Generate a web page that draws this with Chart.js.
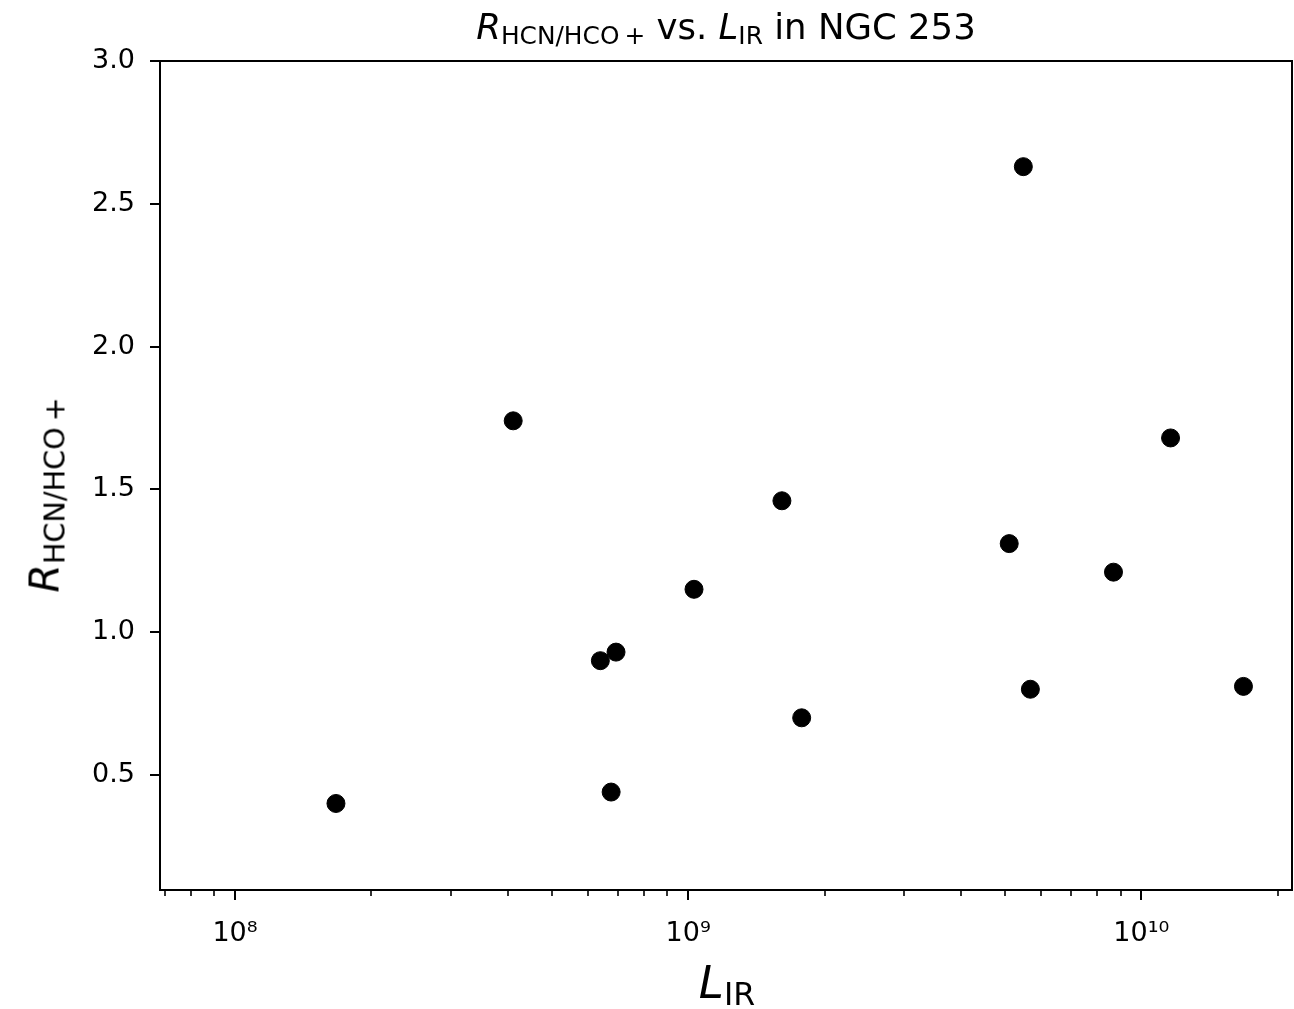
<!DOCTYPE html>
<html>
<head>
<meta charset="utf-8">
<script src="https://cdn.jsdelivr.net/npm/chart.js@4.4.0/dist/chart.umd.min.js"></script>
<style>
  body { margin: 0; background: #fff; }
  #wrap { position: relative; width: 1294px; height: 1009px; font-family: "DejaVu Sans", sans-serif; color: #000; }
  canvas { position: absolute; left: 0; top: 0; }
  .lbl { position: absolute; white-space: nowrap; line-height: 1; }
  .lbl sub { font-size: 70%; vertical-align: baseline; position: relative; top: 0.22em; }
  #title { left: 726px; top: 9px; font-size: 35.5px; transform: translateX(-50%); }
  #xlabel { left: 727px; top: 960px; font-size: 45px; transform: translateX(-50%); }
  #ylabel { left: 45px; top: 495px; font-size: 41px; transform: translate(-50%, -50%) rotate(-90deg); }
</style>
</head>
<body>
<div id="wrap">
  <canvas id="scatter" width="1294" height="1009"></canvas>
  <div class="lbl" id="title"><i>R</i><sub>HCN/HCO&thinsp;+</sub> vs. <i>L</i><sub>IR</sub> in NGC 253</div>
  <div class="lbl" id="xlabel"><i>L</i><sub>IR</sub></div>
  <div class="lbl" id="ylabel"><i>R</i><sub>HCN/HCO&thinsp;+</sub></div>
</div>
<script>
// Values
const lirValues = [1.67e8, 4.11e8, 6.40e8, 6.93e8, 6.76e8, 1.03e9, 1.61e9, 1.78e9, 5.11e9, 5.49e9, 5.69e9, 8.68e9, 1.16e10, 1.68e10]
const ratioValues = [0.40, 1.74, 0.90, 0.93, 0.44, 1.15, 1.46, 0.70, 1.31, 2.63, 0.80, 1.21, 1.68, 0.81]

// Axes
const xRange = [6.83e7, 2.15e10]
const yRange = [0.097, 3.0]
const xMajorTicks = [1e8, 1e9, 1e10]
const xMajorLabels = ['10⁸', '10⁹', '10¹⁰']
const xMinorTicks = [7e7, 8e7, 9e7,
  2e8, 3e8, 4e8, 5e8, 6e8, 7e8, 8e8, 9e8,
  2e9, 3e9, 4e9, 5e9, 6e9, 7e9, 8e9, 9e9,
  2e10]
const yTicks = [0.5, 1.0, 1.5, 2.0, 2.5, 3.0]
const yTickLabels = ['0.5', '1.0', '1.5', '2.0', '2.5', '3.0']

// Draw the axes box and the tick marks (matplotlib style, outward)
const frame = {
  id: 'frame',
  afterDraw(chart) {
    const {ctx, chartArea: a, scales: {x, y}} = chart
    const line = (x1, y1, x2, y2) => {
      ctx.beginPath()
      ctx.moveTo(x1, y1)
      ctx.lineTo(x2, y2)
      ctx.stroke()
    }
    ctx.save()
    ctx.strokeStyle = '#000'
    ctx.lineWidth = 2
    ctx.strokeRect(a.left, a.top, a.right - a.left, a.bottom - a.top)

    yTicks.forEach(v => {
      const py = Math.round(y.getPixelForValue(v))
      line(a.left, py, a.left - 10, py)
    })
    xMajorTicks.forEach(v => {
      const px = Math.round(x.getPixelForValue(v))
      line(px, a.bottom, px, a.bottom + 10)
    })
    ctx.lineWidth = 1.6
    xMinorTicks.forEach(v => {
      const px = Math.round(x.getPixelForValue(v))
      line(px, a.bottom, px, a.bottom + 6)
    })
    ctx.restore()
  }
}

const points = lirValues.map((v, i) => ({x: v, y: ratioValues[i]}))

new Chart('scatter', {
  type: 'scatter',
  data: {
    datasets: [{
      data: points,
      backgroundColor: '#000',
      borderColor: '#000',
      borderWidth: 1,
      pointRadius: 9,
      pointHoverRadius: 9
    }]
  },
  options: {
    responsive: false,
    animation: false,
    devicePixelRatio: 1,
    layout: { autoPadding: false, padding: { top: 61, right: 2, left: 0, bottom: 0 } },
    plugins: {
      legend: { display: false },
      title: { display: false },
      tooltip: { enabled: false }
    },
    scales: {
      x: {
        type: 'logarithmic',
        min: xRange[0],
        max: xRange[1],
        grid: { display: false, drawTicks: false },
        border: { display: false },
        afterBuildTicks: scale => {
          scale.ticks = xMajorTicks.map(v => ({value: v}))
        },
        afterFit: scale => { scale.height = 119 },
        ticks: {
          autoSkip: false,
          maxRotation: 0,
          minRotation: 0,
          padding: 28,
          color: '#000',
          font: { family: 'DejaVu Sans', size: 27 },
          callback: value => {
            const i = xMajorTicks.indexOf(value)
            return i >= 0 ? xMajorLabels[i] : ''
          }
        }
      },
      y: {
        min: yRange[0],
        max: yRange[1],
        grid: { display: false, drawTicks: false },
        border: { display: false },
        afterBuildTicks: scale => {
          scale.ticks = yTicks.map(v => ({value: v}))
        },
        afterFit: scale => { scale.width = 160 },
        ticks: {
          autoSkip: false,
          padding: 25,
          color: '#000',
          font: { family: 'DejaVu Sans', size: 27 },
          callback: value => {
            const i = yTicks.indexOf(value)
            return i >= 0 ? yTickLabels[i] : ''
          }
        }
      }
    }
  },
  plugins: [frame]
})
</script>
</body>
</html>
